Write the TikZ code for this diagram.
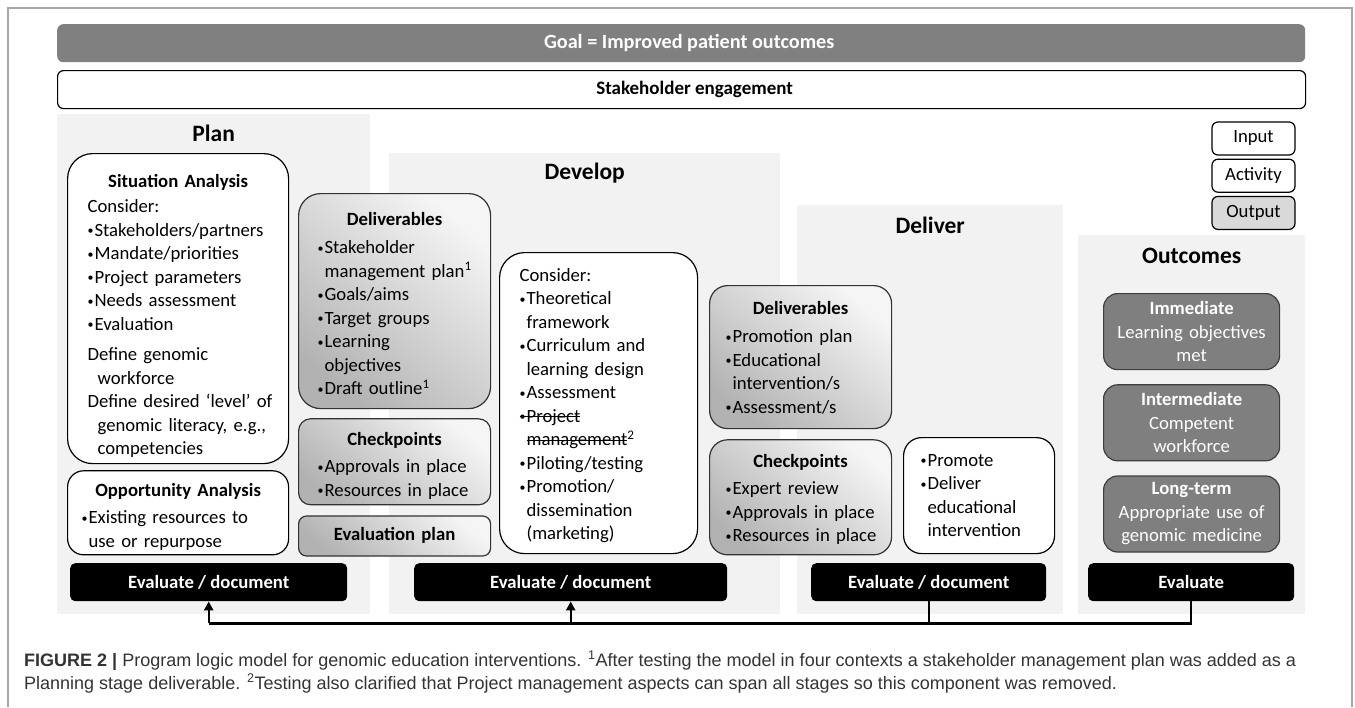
\documentclass[tikz,border=0pt]{standalone}
\usepackage{fontspec}
\setmainfont{Carlito}
\newfontfamily\capfont{Liberation Sans}
\usetikzlibrary{positioning,arrows.meta}

\definecolor{panelgray}{HTML}{F2F2F2}
\definecolor{goalgray}{HTML}{808080}
\definecolor{resgray}{HTML}{7F7F7F}
\definecolor{resedge}{HTML}{3F3F3F}
\definecolor{legendgray}{HTML}{D9D9D9}
\definecolor{framegray}{HTML}{A6A6A6}
\definecolor{captext}{HTML}{333333}

\newcommand{\bodyfont}{\fontsize{18.7}{23.5}\selectfont}
\newcommand{\nowrap}{\rightskip=0pt minus 40pt\relax}
\newcommand{\itm}{\makebox[7pt][l]{\raisebox{1.5pt}{\fontsize{12}{12}\selectfont\textbullet}}}
\newcommand{\cnt}{\hspace*{7pt}}
\newcommand{\hd}[1]{\makebox[\linewidth]{\bfseries #1}}
\newsavebox{\strkbox}
\newcommand{\strk}[1]{\sbox{\strkbox}{#1}\mbox{\rlap{\rule[0.25em]{\wd\strkbox}{1pt}}\usebox{\strkbox}}}

\begin{document}
\begin{tikzpicture}[
    x=1pt, y=-1pt,
    panel/.style={fill=panelgray, inner sep=0pt, anchor=north west},
    ttl/.style={font=\fontsize{23.5}{28}\selectfont\bfseries},
    bar/.style={rounded corners=6pt, inner sep=0pt, anchor=north west, minimum width=1248pt, minimum height=38pt, font=\fontsize{19}{23}\selectfont\bfseries},
    inbox/.style={draw=black, line width=1.2pt, fill=white, align=left, anchor=north west, inner ysep=0pt, font=\bodyfont},
    outbox/.style={draw=black!80, line width=1.2pt, align=left, anchor=north west, inner ysep=0pt, font=\bodyfont, top color=black!4, bottom color=black!30, shading angle=-40},
    resbox/.style={draw=resedge, line width=1.2pt, fill=resgray, text=white, align=center, rounded corners=14pt, minimum width=176pt, minimum height=76pt, text width=170pt, inner xsep=3pt, font=\bodyfont},
    legbox/.style={draw=black, line width=1.2pt, rounded corners=6pt, minimum width=83pt, minimum height=33pt, inner sep=0pt, font=\bodyfont},
    evbar/.style={fill=black, text=white, rounded corners=5pt, inner sep=0pt, anchor=north west, minimum height=38pt, font=\bodyfont\bfseries},
    fb/.style={line width=2.4pt},
    fbarrow/.style={fb, -{Triangle[length=9pt, width=9pt]}},
    captxt/.style={anchor=base west, inner sep=0pt, text=captext, font=\capfont\fontsize{18}{22}\selectfont}
]

% frame
\draw[framegray, line width=1.5pt] (8,707) -- (8,8) -- (1352,8) -- (1352,707);

% goal and stakeholder bars
\node[bar, fill=goalgray, text=white, font=\fontsize{20.2}{24}\selectfont\bfseries] (goal) at (57,24) {\hspace*{16pt}Goal = Improved patient outcomes};
\node[bar, draw=black, line width=1.2pt, fill=white] (stake) at (57,70) {\hspace*{26pt}Stakeholder engagement};

% stage panels
\node[panel, minimum width=313pt, minimum height=500pt] (planpanel) at (57,114) {};
\node[panel, minimum width=391pt, minimum height=461pt] (devpanel) at (389,153) {};
\node[panel, minimum width=266pt, minimum height=409pt] (delpanel) at (797,205) {};
\node[panel, minimum width=227pt, minimum height=379pt] (outpanel) at (1078,235) {};

\node[ttl] (plantitle) at ([yshift=-19pt]planpanel.north) {Plan};
\node[ttl] (devtitle) at ([yshift=-20pt]devpanel.north) {Develop};
\node[ttl] (deltitle) at ([yshift=-20pt]delpanel.north) {Deliver};
\node[ttl] (outtitle) at ([yshift=-21pt]outpanel.north) {Outcomes};

% legend
\node[legbox, fill=white] (leginput) at (1253.5,138.5) {Input};
\node[legbox, fill=white, below=3pt of leginput] (legactivity) {Activity};
\node[legbox, fill=legendgray, below=3pt of legactivity] (legoutput) {Output};

% Plan
\node[inbox, rounded corners=25pt, inner xsep=20pt, text width=181pt, text height=33.5pt, text depth=276.5pt] (sitan) at (67,153) {\nowrap
\hd{Situation Analysis}\\[2pt]
Consider:\\
\itm Stakeholders/partners\\
\itm Mandate/priorities\\
\itm Project parameters\\
\itm Needs assessment\\
\itm Evaluation\\[7pt]
Define genomic\\
\hspace*{10pt}workforce\\
Define desired ‘level’ of\\
\hspace*{10pt}genomic literacy, e.g.,\\
\hspace*{10pt}competencies};
\node[inbox, rounded corners=16pt, inner xsep=14pt, text width=193pt, text height=25.5pt, text depth=58.5pt, below=6pt of sitan] (oppan) {\nowrap
\hd{Opportunity Analysis}\\[4pt]
\itm Existing resources to\\
\cnt use or repurpose};

\node[outbox, rounded corners=22pt, inner xsep=19pt, text width=154pt, text height=31.5pt, text depth=183.5pt] (pdeliv) at (298,193) {\nowrap
\hd{Deliverables}\\[5pt]
\itm Stakeholder\\
\cnt management plan\textsuperscript{1}\\
\itm Goals/aims\\
\itm Target groups\\
\itm Learning\\
\cnt objectives\\
\itm Draft outline\textsuperscript{1}};
\node[outbox, rounded corners=12pt, inner xsep=19pt, text width=154pt, text height=26.5pt, text depth=59.5pt, below=9pt of pdeliv] (pcheck) {\nowrap
\hd{Checkpoints}\\[4pt]
\itm Approvals in place\\
\mbox{\itm Resources in place}};
\node[outbox, rounded corners=8pt, inner xsep=19pt, text width=154pt, text height=24.5pt, text depth=15.5pt, below=10pt of pcheck] (evplan) {%
\hd{Evaluation plan}};

% Develop
\node[inbox, rounded corners=25pt, inner xsep=20pt, text width=158pt, text height=28.5pt, text depth=272.5pt] (devcons) at (499,252) {\nowrap
Consider:\\
\itm Theoretical\\
\cnt framework\\
\itm Curriculum and\\
\cnt learning design\\
\itm Assessment\\
\strk{\itm Project}\\
\cnt\strk{management}\textsuperscript{2}\\
\itm Piloting/testing\\
\itm Promotion/\\
\cnt dissemination\\
\cnt (marketing)};

% Deliver
\node[outbox, rounded corners=18pt, inner xsep=16pt, text width=150pt, text height=28.5pt, text depth=114.5pt] (ddeliv) at (709,285) {\nowrap
\hd{Deliverables}\\[5pt]
\itm Promotion plan\\
\itm Educational\\
\cnt intervention/s\\
\itm Assessment/s};
\node[outbox, rounded corners=18pt, inner xsep=16pt, text width=150pt, text height=27.5pt, text depth=87.5pt, below=10pt of ddeliv] (dcheck) {\nowrap
\hd{Checkpoints}\\[4pt]
\itm Expert review\\
\mbox{\itm Approvals in place}\\
\mbox{\itm Resources in place}};
\node[inbox, rounded corners=18pt, inner xsep=17pt, text width=117pt, text height=28.5pt, text depth=87.5pt] (dact) at (903,437) {\nowrap
\itm Promote\\
\itm Deliver\\
\cnt educational\\
\cnt intervention};

% Outcomes
\node[resbox, anchor=north west] (immediate) at (1103,293) {\textbf{Immediate}\\Learning objectives\\met};
\node[resbox, below=14pt of immediate] (intermediate) {\textbf{Intermediate}\\Competent\\workforce};
\node[resbox, below=14pt of intermediate] (longterm) {\textbf{Long-term}\\Appropriate use of\\genomic medicine};

% evaluate bars
\node[evbar, minimum width=277pt] (evp) at (70,563) {Evaluate / document};
\node[evbar, minimum width=313pt] (evd) at (414,563) {Evaluate / document};
\node[evbar, minimum width=235pt] (evl) at (811,563) {Evaluate / document};
\node[evbar, minimum width=206pt] (evo) at (1088,563) {Evaluate};

% feedback loop
\coordinate (busl) at ([yshift=-22pt]evp.south);
\draw[fb] (evo.south) |- (busl);
\draw[fb] (evl.south) -- (evl.south |- busl);
\draw[fbarrow] (busl) -- (evp.south);
\draw[fbarrow] (evd.south |- busl) -- (evd.south);

% caption
\node[captxt] (cap1) at (24,666) {\textbf{FIGURE 2 |} Program logic model for genomic education interventions. \textsuperscript{1}After testing the model in four contexts a stakeholder management plan was added as a};
\node[captxt] (cap2) at (24,689) {Planning stage deliverable. \textsuperscript{2}Testing also clarified that Project management aspects can span all stages so this component was removed.};

\useasboundingbox (0,0) rectangle (1355,707);
\end{tikzpicture}
\end{document}
